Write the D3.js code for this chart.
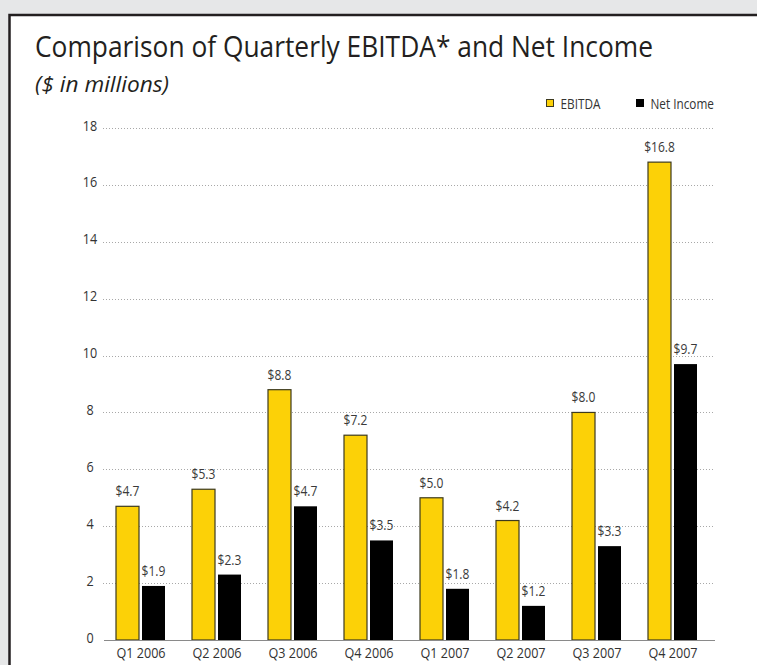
<!DOCTYPE html>
<html>
<head>
<meta charset="utf-8">
<script src="https://cdn.jsdelivr.net/npm/d3@7/dist/d3.min.js"></script>
<style>
  body { margin: 0; background: #e6e7e8; }
  svg { display: block; }
</style>
</head>
<body>
<svg id="chart"></svg>
<script>
// chart data
const quarters = ["Q1 2006", "Q2 2006", "Q3 2006", "Q4 2006", "Q1 2007", "Q2 2007", "Q3 2007", "Q4 2007"];
const seriesNames = ["EBITDA", "Net Income"];
const ebitda = [4.7, 5.3, 8.8, 7.2, 5.0, 4.2, 8.0, 16.8];
const netIncome = [1.9, 2.3, 4.7, 3.5, 1.8, 1.2, 3.3, 9.7];
const yTicks = [0, 2, 4, 6, 8, 10, 12, 14, 16, 18];

const width = 757, height = 665;
const font = "'Open Sans', 'Noto Sans', sans-serif";
const colors = { "EBITDA": "#fcd107", "Net Income": "#000000" };

// squeeze text horizontally so it looks like the condensed face of the original
function condense(sel, factor) {
  sel.each(function () {
    const len = this.getComputedTextLength();
    d3.select(this)
      .attr("textLength", len * factor)
      .attr("lengthAdjust", "spacingAndGlyphs");
  });
}

const svg = d3.select("#chart").attr("width", width).attr("height", height);

// panel
svg.append("rect")
  .attr("x", 9.5).attr("y", 15)
  .attr("width", width + 20).attr("height", height + 20)
  .attr("fill", "#fff").attr("stroke", "#231f20").attr("stroke-width", 2.5);

// titles
svg.append("text")
  .attr("x", 35).attr("y", 57)
  .attr("font-family", font).attr("font-size", 30)
  .attr("fill", "#231f20")
  .attr("textLength", 618).attr("lengthAdjust", "spacingAndGlyphs")
  .text("Comparison of Quarterly EBITDA* and Net Income");

svg.append("text")
  .attr("x", 35).attr("y", 92)
  .attr("font-family", font).attr("font-size", 21).attr("font-style", "italic")
  .attr("fill", "#231f20")
  .attr("textLength", 134).attr("lengthAdjust", "spacingAndGlyphs")
  .text("($ in millions)");

// scales
const x = d3.scaleBand().domain(quarters).range([103, 711]);
const x1 = d3.scaleBand().domain(seriesNames).range([13, 62]).paddingInner(0.1154);
const y = d3.scaleLinear().domain([0, 18]).range([640, 128]);

// grid
svg.append("g")
  .selectAll("line")
  .data(yTicks.filter(d => d > 0))
  .join("line")
    .attr("x1", 103).attr("x2", 714)
    .attr("y1", d => Math.round(y(d)) + 0.5).attr("y2", d => Math.round(y(d)) + 0.5)
    .attr("stroke", "#a8a8a8").attr("stroke-width", 1)
    .attr("stroke-dasharray", "1,2");

// y axis labels (centred in a column, sitting on the grid line)
const yAxis = d3.axisLeft(y).tickValues(yTicks).tickSize(0).tickPadding(0);
svg.append("g")
  .attr("transform", "translate(90,0)")
  .call(yAxis)
  .call(g => g.select(".domain").remove())
  .call(g => g.selectAll("text")
    .attr("text-anchor", "middle").attr("dy", 2)
    .attr("font-family", font).attr("font-size", 15).attr("fill", "#333")
    .call(condense, 0.84));

// bars
const rows = quarters.map((q, i) => ({ q, values: [
  { key: "EBITDA", value: ebitda[i] },
  { key: "Net Income", value: netIncome[i] }
]}));

const groups = svg.append("g")
  .selectAll("g")
  .data(rows)
  .join("g")
    .attr("transform", d => `translate(${x(d.q)},0)`);

groups.selectAll("rect")
  .data(d => d.values)
  .join("rect")
    .attr("x", d => x1(d.key))
    .attr("y", d => y(d.value))
    .attr("width", x1.bandwidth())
    .attr("height", d => y(0) - y(d.value))
    .attr("fill", d => colors[d.key])
    .attr("stroke", d => d.key === "EBITDA" ? "#3d3a1e" : "none")
    .attr("stroke-width", 1.2);

groups.selectAll("text")
  .data(d => d.values)
  .join("text")
    .attr("x", d => x1(d.key) + x1.bandwidth() / 2)
    .attr("y", d => y(d.value) - 10)
    .attr("text-anchor", "middle")
    .attr("font-family", font).attr("font-size", 14).attr("fill", "#3a3a3a")
    .text(d => "$" + d.value.toFixed(1))
    .call(condense, 0.86);

// x axis
svg.append("line")
  .attr("x1", 104).attr("x2", 715)
  .attr("y1", 640.5).attr("y2", 640.5)
  .attr("stroke", "#8a8a8a").attr("stroke-width", 1);

const xAxis = d3.axisBottom(x).tickSize(0).tickPadding(0);
svg.append("g")
  .attr("transform", "translate(0,658)")
  .call(xAxis)
  .call(g => g.select(".domain").remove())
  .call(g => g.selectAll("text")
    .attr("dy", 0)
    .attr("font-family", font).attr("font-size", 15).attr("fill", "#333")
    .call(condense, 0.84));

// legend
const legend = svg.append("g").attr("transform", "translate(546,99)");
const legendX = [0, 90];
seriesNames.forEach((name, i) => {
  legend.append("rect")
    .attr("x", legendX[i] + 0.5).attr("y", 0.5)
    .attr("width", 7).attr("height", 7)
    .attr("fill", colors[name])
    .attr("stroke", name === "EBITDA" ? "#3d3a1e" : "#000");
  legend.append("text")
    .attr("x", legendX[i] + 14.5).attr("y", 10)
    .attr("font-family", font).attr("font-size", 14).attr("fill", "#333")
    .text(name)
    .call(condense, 0.84);
});
</script>
</body>
</html>
